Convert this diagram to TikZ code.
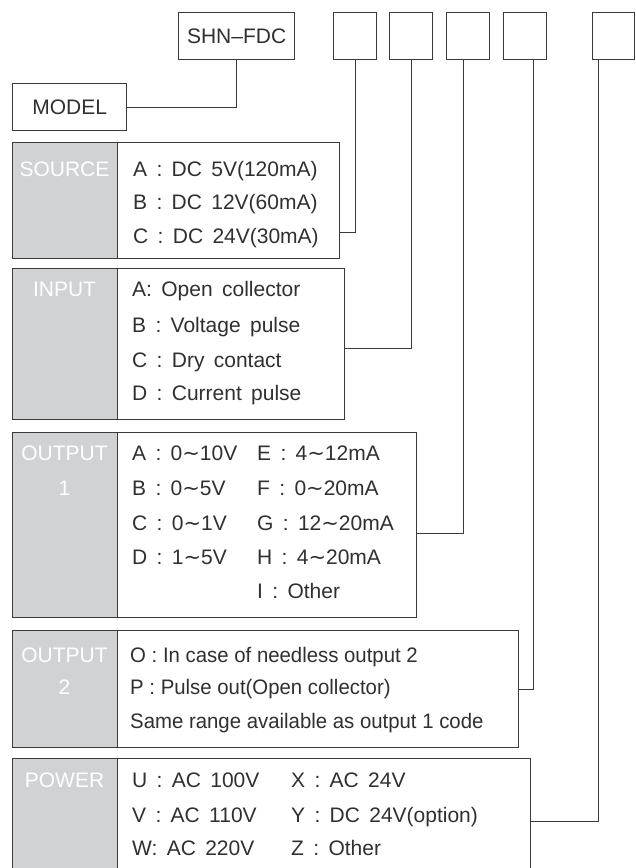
\documentclass[tikz,border=0pt]{standalone}
\usepackage{fontspec}
\setmainfont[WordSpace=1.6]{Liberation Sans}
\newfontfamily\tightfont[FakeStretch=0.97]{Liberation Sans}
\newfontfamily\symfont{DejaVu Sans}
\newcommand{\tld}{{\symfont\char"223C}}
\definecolor{linegray}{HTML}{3A3A3A}
\definecolor{tagfill}{HTML}{D1D2D4}
\definecolor{ink}{HTML}{303030}
\tikzset{
  wire/.style={draw=linegray, line width=1.2pt},
  codebox/.style={draw=linegray, line width=1.2pt, fill=white, anchor=north west,
    inner sep=0pt, minimum width=43pt, minimum height=47pt, text=ink},
  panel/.style={draw=linegray, line width=1.2pt, fill=white, anchor=north west, inner sep=0pt},
  tag/.style={draw=linegray, line width=1.2pt, fill=tagfill, anchor=north west,
    inner sep=0pt, minimum width=105pt},
  tagtext/.style={text=white, inner sep=0pt, text height=15pt, text depth=0pt},
  row/.style={anchor=west, inner sep=0pt, text height=15pt, text depth=0pt, text=ink},
}
\begin{document}
\begin{tikzpicture}[x=1pt, y=-1pt, font=\fontsize{21}{25}\selectfont]
\useasboundingbox (0,0) rectangle (635,868);
\clip (0,0) rectangle (635,868);

% model code boxes
\node[codebox, minimum width=116pt] (model) at (178,12) {SHN\textendash FDC};
\node[codebox, minimum width=114pt] (lbl) at (12,83) {MODEL};
\node[codebox] (code1) at (333,12) {};
\node[codebox] (code2) at (389,12) {};
\node[codebox] (code3) at (446,12) {};
\node[codebox] (code4) at (503,12) {};
\node[codebox, minimum width=42pt] (code5) at (592,12) {};

% panels
\node[panel, minimum width=327pt, minimum height=116pt] (source) at (12,142) {};
\node[tag, minimum height=116pt] (source-tag) at (12,142) {};
\node[panel, minimum width=332pt, minimum height=151pt] (input) at (12,268) {};
\node[tag, minimum height=151pt] (input-tag) at (12,268) {};
\node[panel, minimum width=404pt, minimum height=185pt] (out1) at (12,432) {};
\node[tag, minimum height=185pt] (out1-tag) at (12,432) {};
\node[panel, minimum width=506pt, minimum height=117pt] (out2) at (12,630) {};
\node[tag, minimum height=117pt] (out2-tag) at (12,630) {};
\node[panel, minimum width=518pt, minimum height=126pt] (power) at (12,758) {};
\node[tag, minimum height=126pt] (power-tag) at (12,758) {};

% tag labels
\node[tagtext] (source-t) at (64.5,168.5) {SOURCE};
\node[tagtext] (input-t) at (64.5,288.5) {INPUT};
\node[tagtext] (out1-t) at (64.5,452.5) {OUTPUT};
\node[tagtext] (out1-n) at (64.5,487.5) {1};
\node[tagtext] (out2-t) at (64.5,654.5) {OUTPUT};
\node[tagtext] (out2-n) at (64.5,686.5) {2};
\node[tagtext] (power-t) at (64.5,779.5) {POWER};

% source
\node[row] (src-a) at (133,168.5) {A : DC 5V(120mA)};
\node[row] (src-b) at (133,202) {B : DC 12V(60mA)};
\node[row] (src-c) at (133,235.5) {C : DC 24V(30mA)};

% input
\node[row] (in-a) at (132,288.5) {A: Open collector};
\node[row] (in-b) at (132,324.5) {B : Voltage pulse};
\node[row] (in-c) at (132,359.5) {C : Dry contact};
\node[row] (in-d) at (132,392.5) {D : Current pulse};

% output 1
\node[row] (o1-a) at (132,452.5) {A : 0\tld10V};
\node[row] (o1-b) at (132,487.5) {B : 0\tld5V};
\node[row] (o1-c) at (132,522.5) {C : 0\tld1V};
\node[row] (o1-d) at (132,556.5) {D : 1\tld5V};
\node[row] (o1-e) at (257,452.5) {E : 4\tld12mA};
\node[row] (o1-f) at (257,487.5) {F : 0\tld20mA};
\node[row] (o1-g) at (257,522.5) {G : 12\tld20mA};
\node[row] (o1-h) at (257,556.5) {H : 4\tld20mA};
\node[row] (o1-i) at (257,590.5) {I : Other};

% output 2
\node[row, font=\tightfont\fontsize{21}{25}\selectfont] (o2-o) at (130,654.5) {O : In case of needless output 2};
\node[row, font=\tightfont\fontsize{21}{25}\selectfont] (o2-p) at (130,686.5) {P : Pulse out(Open collector)};
\node[row, font=\tightfont\fontsize{21}{25}\selectfont] (o2-s) at (130,720.5) {Same range available as output 1 code};

% power
\node[row] (pw-u) at (132,779.5) {U : AC 100V};
\node[row] (pw-v) at (132,814.5) {V : AC 110V};
\node[row] (pw-w) at (132,847.5) {W: AC 220V};
\node[row] (pw-x) at (291,779.5) {X : AC 24V};
\node[row] (pw-y) at (291,814.5) {Y : DC 24V(option)};
\node[row] (pw-z) at (291,847.5) {Z : Other};

% connectors
\draw[wire] (model.south) |- (lbl.east);
\draw[wire] (code1.south) |- ([yshift=-32pt]source.east);
\draw[wire] (code2.south) |- ([yshift=-4.5pt]input.east);
\draw[wire] ([xshift=-4.5pt]code3.south) |- ([yshift=-8.5pt]out1.east);
\draw[wire] ([xshift=8.5pt]code4.south) |- (out2.east);
\draw[wire] ([xshift=-15pt]code5.south) |- (power.east);
\end{tikzpicture}
\end{document}
